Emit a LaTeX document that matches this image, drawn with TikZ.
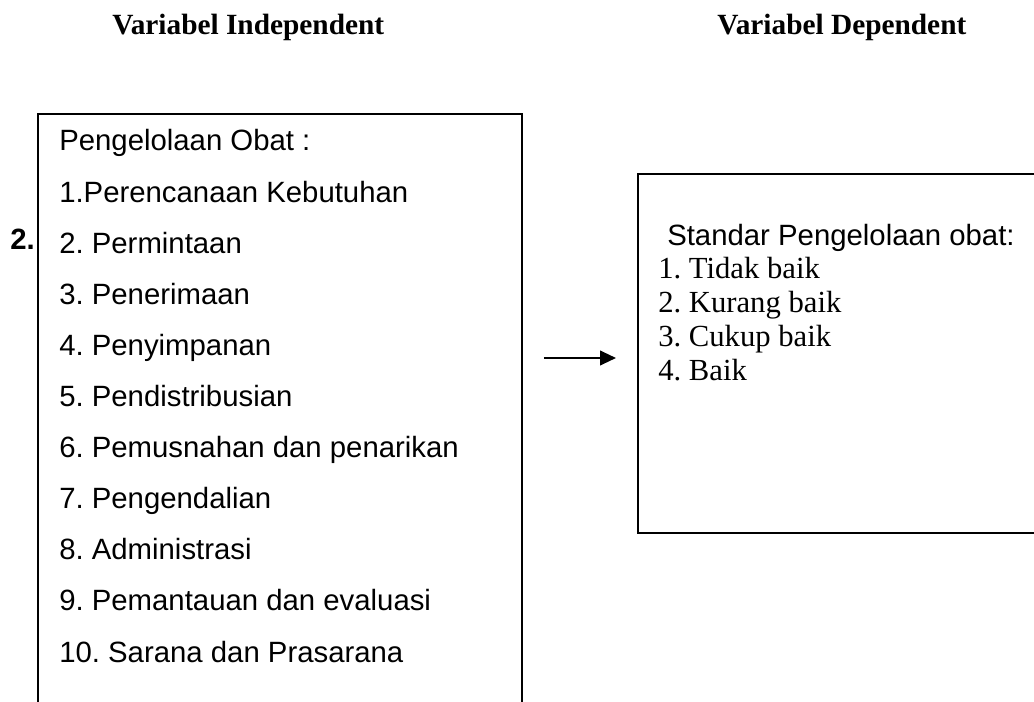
\documentclass[tikz,border=0pt]{standalone}
\usepackage{fontspec}
\setmainfont{Liberation Serif}
\newfontfamily\arialfont{Liberation Sans}
\usetikzlibrary{arrows.meta}
\frenchspacing

\tikzset{
  title/.style={font=\fontsize{22}{26}\selectfont\bfseries, anchor=base west, inner sep=0pt},
  item/.style={font=\arialfont\fontsize{22}{26}\selectfont, anchor=base west, inner sep=0pt},
  grade/.style={font=\fontsize{23}{27}\selectfont, anchor=base west, inner sep=0pt},
  box/.style={draw, line width=1.4pt, fill=white, anchor=north west, inner sep=0pt},
  conn/.style={-{Triangle[length=12pt,width=11pt]}, line width=1.5pt}
}

\begin{document}
\begin{tikzpicture}[x=0.75pt,y=-0.75pt]
        % Page
        \clip (0,0) rectangle (1034,702);

        % Titles
        \node[title] (indeptitle) at (112,35) {Variabel Independent};
        \node[title] (deptitle) at (717,35) {Variabel Dependent};

        % Stray number
        \node[item, font=\arialfont\fontsize{22}{26}\selectfont\bfseries] (two) at (10,249) {2.};

        % Boxes
        \node[box, minimum width=363pt, minimum height=455pt] (indep) at (37,113) {};
        \node[box, minimum width=315pt, minimum height=269.25pt] (dep) at (637,173) {};

        % Independent variable
        \foreach \t [count=\i from 0] in {Pengelolaan Obat :, 1.Perencanaan Kebutuhan, 2. Permintaan,
            3. Penerimaan, 4. Penyimpanan, 5. Pendistribusian, 6. Pemusnahan dan penarikan,
            7. Pengendalian, 8. Administrasi, 9. Pemantauan dan evaluasi, 10. Sarana dan Prasarana}
          \node[item] (item\i) at (59,{151+51.1*\i}) {\t};

        % Dependent variable
        \node[item] (std) at (667,245) {Standar Pengelolaan obat:};
        \node[grade] (grade1) at (658,278) {1. Tidak baik};
        \node[grade] (grade2) at (658,312) {2. Kurang baik};
        \node[grade] (grade3) at (658,346) {3. Cukup baik};
        \node[grade] (grade4) at (658,380) {4. Baik};

        % Arrow
        \coordinate (arrowy) at (0,358);
        \draw[conn, shorten <=15.75pt, shorten >=15.75pt] (indep.east |- arrowy) -- (dep.west |- arrowy);
\end{tikzpicture}
\end{document}
